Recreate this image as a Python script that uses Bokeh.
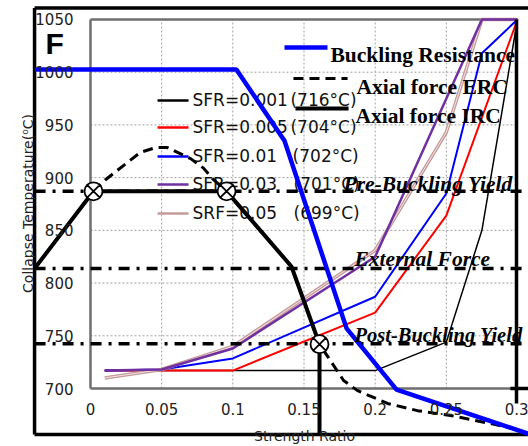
import math
from bokeh.plotting import figure
from bokeh.models import Range1d, LinearAxis, FixedTicker
from bokeh.core.properties import value
from bokeh.embed import file_html
from bokeh.resources import INLINE

# ---------------- inner chart data (Strength Ratio vs Collapse Temperature) ----------------
x_ticks = [0, 0.05, 0.1, 0.15, 0.2, 0.25, 0.3]
x_tick_labels = ["0", "0.05", "0.1", "0.15", "0.2", "0.25", "0.3"]
y_ticks = [700, 750, 800, 850, 900, 950, 1000, 1050]
y_tick_labels = ["700", "750", "800", "850", "900", "950", "1000", "1050"]

sfr001_x = [0.01, 0.05, 0.1, 0.2, 0.25, 0.275, 0.3]
sfr001_y = [717, 717, 717, 717, 744, 850, 1050]
sfr005_x = [0.01, 0.05, 0.1, 0.2, 0.25, 0.3]
sfr005_y = [717, 717, 717, 772, 864, 1050]
sfr01_x = [0.01, 0.05, 0.1, 0.2, 0.25, 0.275, 0.3]
sfr01_y = [717, 718, 728.5, 787, 885, 1018, 1050]
sfr03_x = [0.01, 0.05, 0.1, 0.2, 0.275, 0.3]
sfr03_y = [717, 718, 738, 825, 1050, 1050]
srf05_x = [0.01, 0.05, 0.1, 0.2, 0.25, 0.275, 0.3]
srf05_y = [710, 718, 740, 831, 943, 1050, 1050]

sfr_labels = ["SFR=0.001", "SFR=0.005", "SFR=0.01", "SFR=0.03", "SRF=0.05"]
sfr_temps = ["(716°C)", "(704°C)", "(702°C)", "(701°C)", "(699°C)"]
sfr_colors = ["#000000", "#FF0000", "#0000FF", "#7030A0", "#C49A9A"]

# ---------------- overlay data ----------------
buck_x = [-0.039, 0.1025, 0.1363, 0.1799, 0.2150, 0.3077]
buck_y = [1002.5, 1002.5, 935, 757, 699, 657]
erc_x = [0.0021, 0.0105, 0.0246, 0.0351, 0.0457, 0.0541, 0.0611, 0.0703, 0.0794, 0.0857,
         0.0956, 0.1412, 0.1609, 0.1778, 0.1876, 0.2087, 0.2297, 0.2529, 0.2810, 0.3021]
erc_y = [887, 898, 913, 924, 928.5, 928.5, 924, 918, 909, 899,
         887, 815.7, 742, 707.6, 698, 685.8, 679, 674.4, 666.8, 660.2]
irc_x = [-0.0393, 0.0021, 0.0956, 0.1412, 0.1609, 0.1609]
irc_y = [813.8, 887, 887, 815.7, 742, 656.4]

level_names = ["Pre-Buckling Yield", "External Force", "Post-Buckling Yield"]
level_y = [887, 813.8, 742.5]
level_label_x = [0.1778, 0.1855, 0.1855]
level_label_y = [894.4, 822.4, 751.2]
level_label_size = ["21.5px", "21.5px", "20.5px"]

cross_x = [0.0021, 0.0956, 0.1609]
cross_y = [887, 887, 742]

# ---------------- layout constants ----------------
X0, X1 = -0.06323, 0.30773
Y0, Y1 = 644.99, 1068.0
OUT_L, OUT_R = -0.0393, 0.31
OUT_B, OUT_T = 656.4, 1061.0

SANS = value("DejaVu Sans")
SERIF = value("Liberation Serif")

p = figure(width=528, height=446, output_backend="svg", toolbar_location=None,
           x_range=Range1d(X0, X1), y_range=Range1d(Y0, Y1),
           x_axis_type=None, y_axis_type=None, min_border=0)
p.outline_line_color = None
p.grid.visible = False
p.background_fill_color = "white"

# axes positioned on the inner chart frame
xax = LinearAxis(fixed_location=700, ticker=FixedTicker(ticks=x_ticks),
                 major_label_overrides={t: l for t, l in zip(x_ticks, x_tick_labels)})
yax = LinearAxis(fixed_location=0, ticker=FixedTicker(ticks=y_ticks),
                 major_label_overrides={t: l for t, l in zip(y_ticks, y_tick_labels)})
for ax in (xax, yax):
    ax.axis_line_color = None
    ax.major_tick_line_color = None
    ax.minor_tick_line_color = None
    ax.major_tick_out = 0
    ax.major_tick_in = 0
    ax.major_label_text_font = "DejaVu Sans"
    ax.major_label_text_font_size = "15px"
    ax.major_label_text_color = "#222222"
xax.major_label_standoff = 14
yax.major_label_standoff = 17
p.add_layout(xax, "below")
p.add_layout(yax, "left")

# inner grid
gx = x_ticks[1:-1]
p.segment(x0=gx, y0=[700] * len(gx), x1=gx, y1=[1050] * len(gx),
          line_color="#A0A0A0", line_dash="2 2", line_width=1)
gy = y_ticks[1:-1]
p.segment(x0=[0] * len(gy), y0=gy, x1=[0.3] * len(gy), y1=gy,
          line_color="#A0A0A0", line_dash="2 2", line_width=1)

# inner frame
p.segment(x0=[0, 0, 0], y0=[700, 700, 1050], x1=[0, 0.3, 0.3], y1=[1050, 700, 1050],
          line_color="#6E6E6E", line_width=2.5)

# SFR series
p.line(sfr001_x, sfr001_y, line_color=sfr_colors[0], line_width=1.5)
p.line(sfr005_x, sfr005_y, line_color=sfr_colors[1], line_width=2)
p.line(sfr01_x, sfr01_y, line_color=sfr_colors[2], line_width=2)
p.line(srf05_x, srf05_y, line_color=sfr_colors[4], line_width=3.5)
p.line(srf05_x, srf05_y, line_color="#F2E4E4", line_width=1)
p.line(sfr03_x, sfr03_y, line_color=sfr_colors[3], line_width=2.5)

# SFR legend
leg_rows = [973.2, 947.6, 920.1, 893.5, 866.0]
p.segment(x0=[0.0471] * 5, y0=leg_rows, x1=[0.0689] * 5, y1=leg_rows,
          line_color=sfr_colors, line_width=2.5)
p.text(x=[0.0717] * 5, y=leg_rows, text=sfr_labels, text_font=SANS, text_font_size="17px",
       text_baseline="middle", text_align="left", text_color="#111111")
p.text(x=[0.1405, 0.1405, 0.142, 0.1427, 0.1427], y=leg_rows, text=sfr_temps, text_font=SANS,
       text_font_size="17px", text_baseline="middle", text_align="left", text_color="#111111")

# outer frame
p.segment(x0=[OUT_L, OUT_L, OUT_L, 0.2993, 0.295], y0=[OUT_B, OUT_T, OUT_B, 685.8, 700],
          x1=[OUT_L, OUT_R, OUT_R, 0.2993, OUT_R], y1=[OUT_T, OUT_T, OUT_B, 1050, 700],
          line_color="black", line_width=3.5)

# horizontal levels
n = len(level_y)
p.segment(x0=[OUT_L] * n, y0=level_y, x1=[OUT_R] * n, y1=level_y,
          line_color="black", line_width=3.5, line_dash="11 7 3 7")

# overlay curves
p.line(erc_x, erc_y, line_color="black", line_width=3, line_dash="10 6")
p.line(irc_x, irc_y, line_color="black", line_width=4)
p.line(buck_x, buck_y, line_color="#0000FF", line_width=4.5)

p.scatter(cross_x, cross_y, marker="circle_x", size=18, fill_color="white",
          line_color="black", line_width=1.8)

# overlay legend
p.segment(x0=[0.1363], y0=[1023.4], x1=[0.1665], y1=[1023.4], line_color="#0000FF", line_width=4.5)
p.segment(x0=[0.1426], y0=[994.0], x1=[0.1806], y1=[994.0], line_color="black", line_width=3,
          line_dash="10 6")
p.segment(x0=[0.144], y0=[965.6], x1=[0.1813], y1=[965.6], line_color="black", line_width=4)
p.text(x=[0.1686, 0.1869, 0.1862], y=[1015.9, 986.4, 958.9],
       text=["Buckling Resistance", "Axial force ERC", "Axial force IRC"],
       text_font=SERIF, text_font_style="bold", text_font_size="21.5px",
       text_baseline="alphabetic", text_align="left", text_color="black")

p.text(x=level_label_x, y=level_label_y, text=level_names, text_font=SERIF,
       text_font_style="bold italic", text_font_size=level_label_size,
       text_baseline="alphabetic", text_align="left", text_color="black")

# panel letter and axis titles
p.text(x=[-0.0316], y=[1027.2], text=["F"], text_font=value("Liberation Sans"),
       text_font_style="bold", text_font_size="30px", text_baseline="alphabetic", text_color="black")
p.text(x=[-0.04426], y=[875.5], text=["Collapse Temperature(⁰C)"], angle=math.pi / 2,
       text_font=SANS, text_font_size="14px", text_align="center", text_baseline="middle",
       text_color="#222222")
p.text(x=[0.1504], y=[662.5], text=["Strength Ratio"], text_font=SANS, text_font_size="14px",
       text_align="center", text_baseline="top", text_color="#222222")

open("out.html", "w").write(file_html(p, INLINE))
